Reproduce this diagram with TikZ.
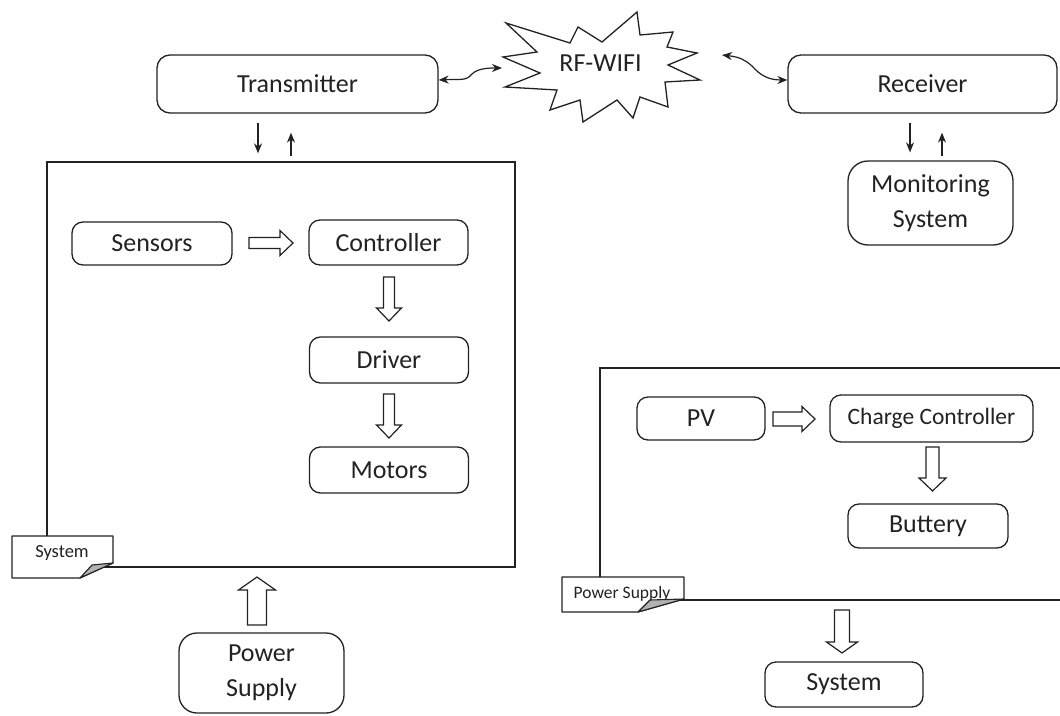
\documentclass[tikz,border=0pt]{standalone}
\usepackage{fontspec}
\setmainfont{Carlito}
\usetikzlibrary{arrows.meta}
\definecolor{ink}{HTML}{222222}
\tikzset{
  blk/.style={draw=ink, line width=1.3pt, rounded corners=11pt, font=\fontsize{26}{35}\selectfont, text=ink, align=center, inner sep=0pt},
  frame/.style={draw=ink, line width=1.3pt, inner sep=0pt},
  hollowline/.style={draw=ink, line width=1.2pt, fill=white, line join=miter},
  thinarr/.style={-{Stealth[length=10pt,width=8pt]}, line width=1.2pt, draw=ink},
  dbl/.style={{Stealth[length=10pt,width=8pt]}-{Stealth[length=10pt,width=8pt]}, line width=1.2pt, draw=ink},
  tag/.style={draw=ink, line width=1.2pt, fill=white, line join=round},
  fold/.style={draw=ink, line width=1.1pt, fill=gray!60, line join=round},
}
% x, y, rotation, length, head width, shaft width, head length
\newcommand{\blkarrow}[7]{%
  \begin{scope}[shift={(#1,#2)}, rotate=#3]
    \pgfmathsetmacro\bL{#4/2}\pgfmathsetmacro\bH{#5/2}\pgfmathsetmacro\bS{#6/2}\pgfmathsetmacro\bB{#4/2-#7}
    \draw[hollowline] (-\bL pt,-\bS pt) -- (\bB pt,-\bS pt) -- (\bB pt,-\bH pt) -- (\bL pt,0pt)
      -- (\bB pt,\bH pt) -- (\bB pt,\bS pt) -- (-\bL pt,\bS pt) -- cycle;
  \end{scope}}
\begin{document}
\begin{tikzpicture}[x=1pt,y=-1pt]
\useasboundingbox (0,0) rectangle (1060,715);
% big frames
\node[frame, minimum width=468pt, minimum height=405pt] (sysbox) at (281,364.5) {};
\node[frame, minimum width=470pt, minimum height=232pt] (pwrbox) at (835,484) {};
% top row
\node[blk, rounded corners=13pt, minimum width=281pt, minimum height=58pt] (trans) at (297.5,84) {Transmitter};
\node[blk, rounded corners=13pt, minimum width=269pt, minimum height=58pt] (recv) at (922.5,84) {Receiver};
\draw[fill=white, line width=1.3pt, draw=ink, line join=miter]
  (506,23) -- (570,43) -- (578,27) -- (602,42) -- (637,12) -- (640,35) -- (673,32) -- (667,47)
  -- (697,53) -- (668,65) -- (700,80) -- (665,82) -- (668,107) -- (640,97) -- (633,118)
  -- (617,100) -- (583,122) -- (580,100) -- (550,110) -- (557,90) -- (505,87) -- (540,73)
  -- (503,57) -- (537,52) -- cycle;
\node[font=\fontsize{26}{30}\selectfont, text=ink, inner sep=0pt] (rf) at (600.5,63) {RF-WIFI};
\coordinate (rfL) at (502,68);
\coordinate (rfR) at (722,55);
\draw[dbl] ([yshift=4pt]trans.east) .. controls (462,79) and (466,81) .. (472,74) .. controls (478,68) and (490,68) .. (rfL);
\draw[dbl] (rfR) .. controls (740,57) and (745,60) .. (752,66) .. controls (760,75) and (768,80) .. ([yshift=4pt]recv.west);
% monitoring
\node[blk, rounded corners=20pt, minimum width=165pt, minimum height=84pt] (mon) at (930.5,203) {Monitoring\\System};
\draw[thinarr] ([xshift=-39.5pt,yshift=-9pt]trans.south) -- ([xshift=-39.5pt,yshift=8pt]trans.south |- sysbox.north);
\draw[thinarr] ([xshift=-6.5pt,yshift=5pt]trans.south |- sysbox.north) -- ([xshift=-6.5pt,yshift=-19pt]trans.south);
\draw[thinarr] ([xshift=-12.5pt,yshift=-9pt]recv.south) -- ([xshift=-12.5pt,yshift=8pt]recv.south |- mon.north);
\draw[thinarr] ([xshift=19.5pt,yshift=4pt]recv.south |- mon.north) -- ([xshift=19.5pt,yshift=-19pt]recv.south);
% system internals
\node[blk, minimum width=160pt, minimum height=43pt] (sens) at (152,243.5) {Sensors};
\node[blk, minimum width=159pt, minimum height=45pt] (ctrl) at (388.5,242.5) {Controller};
\node[blk, minimum width=159pt, minimum height=46pt] (drv) at (389,360) {Driver};
\node[blk, minimum width=159pt, minimum height=46pt] (mot) at (389,470) {Motors};
\blkarrow{271}{243}{0}{44}{25}{11}{13}
\blkarrow{389}{299}{-90}{44}{25}{11}{13}
\blkarrow{389}{416}{-90}{44}{25}{11}{13}
% system tag
\draw[tag] (12,536) -- (113,536) -- (113,563) -- (80,578) -- (12,578) -- cycle;
\node[font=\fontsize{18.5}{20}\selectfont, text=ink, inner sep=0pt] (systag) at (62,553) {System};
\draw[fold] (80,578) -- (92,565) -- (113,563) -- cycle;
% power supply
\node[blk, rounded corners=18pt, minimum width=165pt, minimum height=80pt] (ps) at (261.5,673) {Power\\Supply};
\blkarrow{257}{601}{90}{48}{37}{19}{13}
% power supply block
\node[blk, minimum width=128pt, minimum height=43pt] (pv) at (701,418.5) {PV};
\node[blk, minimum width=203pt, minimum height=47pt, font=\fontsize{23.5}{26}\selectfont] (cc) at (931.5,418.5) {Charge Controller};
\node[blk, minimum width=160pt, minimum height=44pt] (bat) at (928,526) {Buttery};
\blkarrow{794}{419}{0}{42}{25}{14}{13}
\blkarrow{932.5}{469}{-90}{44}{27}{13}{13}
\draw[tag] (562,577) -- (684,577) -- (684,599) -- (638,612) -- (562,612) -- cycle;
\node[font=\fontsize{17.5}{19}\selectfont, text=ink, inner sep=0pt] (pstag) at (622,594) {Power Supply};
\draw[fold] (638,612) -- (650,600) -- (684,599) -- cycle;
\blkarrow{842}{631.5}{-90}{43}{31}{15}{11}
\node[blk, minimum width=158pt, minimum height=45pt] (sys2) at (844,684.5) {System};
\end{tikzpicture}
\end{document}
